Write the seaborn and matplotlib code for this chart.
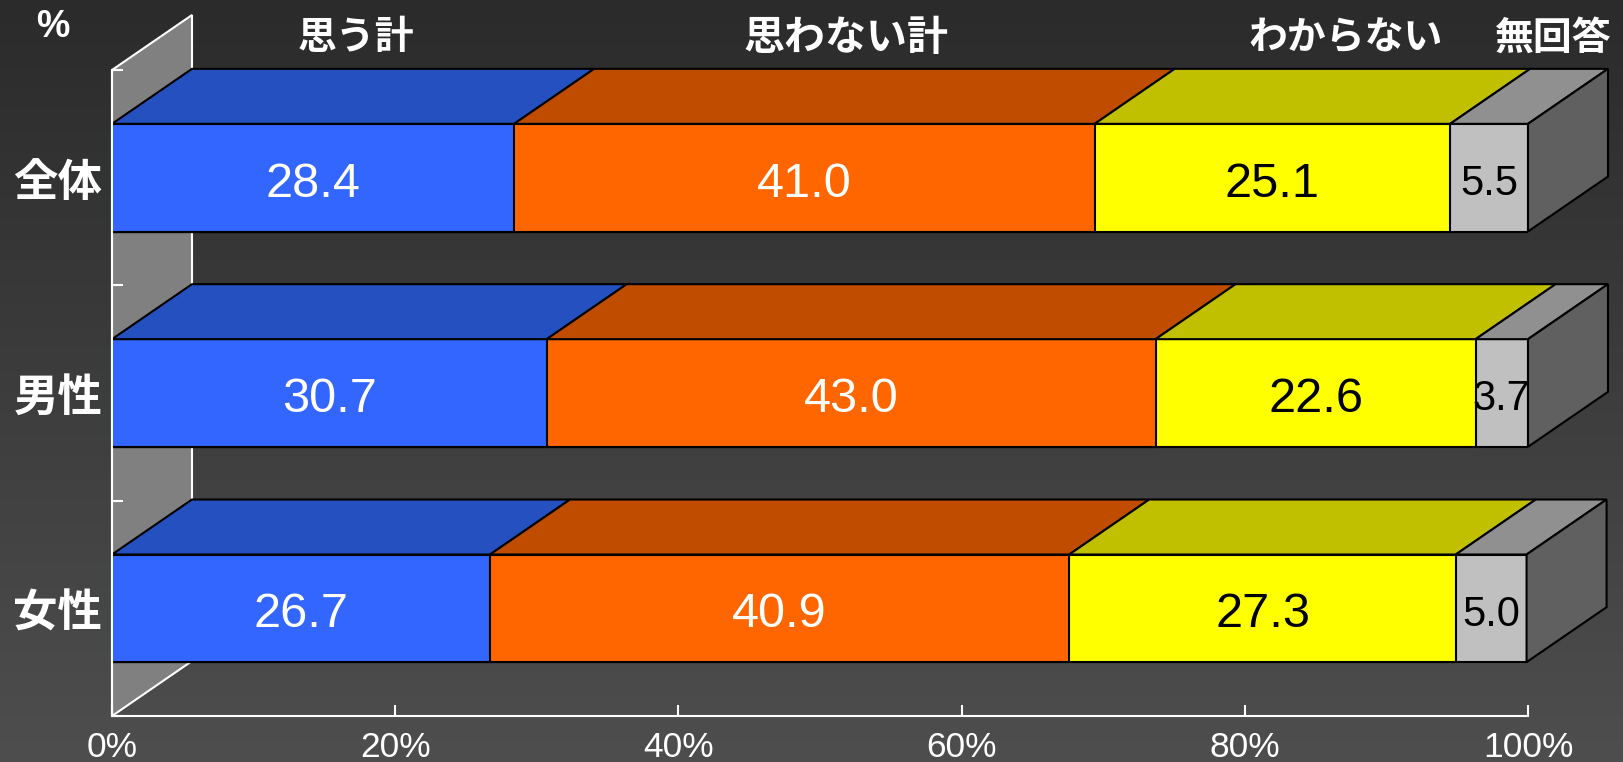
import numpy as np
import pandas as pd
import matplotlib
matplotlib.use("Agg")
import matplotlib.pyplot as plt
from matplotlib.patches import Polygon
from matplotlib.colors import LinearSegmentedColormap
from matplotlib.transforms import blended_transform_factory
import seaborn as sns

# ---- data -------------------------------------------------------------
groups = ["全体", "男性", "女性"]
answers = ["思う計", "思わない計", "わからない", "無回答"]
omou = [28.4, 30.7, 26.7]
omowanai = [41.0, 43.0, 40.9]
wakaranai = [25.1, 22.6, 27.3]
mukaitou = [5.5, 3.7, 5.0]
x_ticks = [0, 20, 40, 60, 80, 100]
x_tick_labels = ["0%", "20%", "40%", "60%", "80%", "100%"]
header_x = [17.2, 51.8, 87.1, 101.8]   # header positions on the % scale

# ---- style ------------------------------------------------------------
front_colors = ["#3366FF", "#FF6600", "#FFFF00", "#C0C0C0"]
top_colors = ["#2550C0", "#C04C00", "#C0C000", "#909090"]
side_color = "#606060"
wall_color = "#808080"
label_colors = ["white", "white", "black", "black"]
label_sizes = [35, 35, 35, 30]
header_sizes = [28, 29.5, 28, 28]
CJK = ["Noto Sans CJK JP", "DejaVu Sans"]
LATIN = ["Liberation Sans", "DejaVu Sans"]

plt.rcParams["font.family"] = CJK

W, H = 1624, 762
fig = plt.figure(figsize=(W / 100, H / 100), dpi=100)

# vertical background gradient
bg = fig.add_axes([0, 0, 1, 1], zorder=-10)
grad = np.linspace(0, 1, 256).reshape(-1, 1)
bg.imshow(grad, aspect="auto",
          cmap=LinearSegmentedColormap.from_list("bg", ["#2b2b2b", "#4e4e4e"]),
          extent=[0, 1, 0, 1], origin="upper")
bg.axis("off")

# front plane of the plot box, in pixels
ax_left, ax_right, ax_top, ax_bottom = 112, 1528, 70, 716
ax = fig.add_axes([ax_left / W, (H - ax_bottom) / H,
                   (ax_right - ax_left) / W, (ax_bottom - ax_top) / H])
ax.set_facecolor("none")

values = np.array([omou, omowanai, wakaranai, mukaitou])
ends = np.cumsum(values, axis=0)
starts = ends - values

df = pd.DataFrame({
    "group": np.tile(groups, len(answers)),
    "answer": np.repeat(answers, len(groups)),
    "value": values.ravel(),
    "start": starts.ravel(),
    "end": ends.ravel(),
})

# stacked front faces: draw cumulative totals from the longest down
for k in reversed(range(len(answers))):
    sub = df[df["answer"] == answers[k]]
    sns.barplot(data=sub, x="end", y="group", order=groups, orient="h",
                color=front_colors[k], saturation=1, width=0.5,
                edgecolor="black", linewidth=1.5, errorbar=None, ax=ax)

ax.set_xlim(0, 100)
ax.set_ylim(len(groups) - 0.5, -0.5)

# depth of the 3D extrusion, converted from pixels to data units
depth_px = (80, 55)
ddx = depth_px[0] / ((ax_right - ax_left) / 100)
ddy = depth_px[1] / ((ax_bottom - ax_top) / len(groups))

# left wall
y_top, y_bot = -0.5, len(groups) - 0.5
ax.add_patch(Polygon([(0, y_top), (ddx, y_top - ddy), (ddx, y_bot - ddy), (0, y_bot)],
                     closed=True, facecolor=wall_color, edgecolor="white",
                     lw=1.5, zorder=0.5, clip_on=False))

half = 0.25
for i, g in enumerate(groups):
    y0 = i - half
    for k in range(len(answers)):
        s, e, v = starts[k, i], ends[k, i], values[k, i]
        ax.add_patch(Polygon([(s, y0), (e, y0), (e + ddx, y0 - ddy), (s + ddx, y0 - ddy)],
                             closed=True, facecolor=top_colors[k], edgecolor="black",
                             lw=1.5, zorder=1, clip_on=False))
        ax.text((s + e) / 2, i + 0.03, f"{v:.1f}", ha="center", va="center",
                fontsize=label_sizes[k], color=label_colors[k], family=LATIN,
                zorder=5)
    end = ends[-1, i]
    ax.add_patch(Polygon([(end, i - half), (end, i + half),
                          (end + ddx, i + half - ddy), (end + ddx, i - half - ddy)],
                         closed=True, facecolor=side_color, edgecolor="black",
                         lw=1.5, zorder=1, clip_on=False))

# headers above the top bar
trans = blended_transform_factory(ax.transData, fig.transFigure)
for k, name in enumerate(answers):
    ax.text(header_x[k], 1 - 38 / H, name, transform=trans, ha="center", va="center",
            fontsize=header_sizes[k], fontweight="bold", color="white", clip_on=False)
fig.text(53 / W, 1 - 27 / H, "%", ha="center", va="center", fontsize=27,
         fontweight="bold", color="white", family=LATIN)

# axes styling
for side in ["top", "right"]:
    ax.spines[side].set_visible(False)
for side in ["left", "bottom"]:
    ax.spines[side].set_color("white")
    ax.spines[side].set_linewidth(1.5)

ax.set_xticks(x_ticks)
ax.set_xticklabels(x_tick_labels, family=LATIN)
ax.tick_params(axis="x", direction="in", length=8, width=1.5, color="white",
               labelcolor="white", labelsize=25.5, pad=11)

ax.set_yticks(range(len(groups)))
ax.set_yticklabels(groups, fontweight="bold", fontsize=32, color="white")
ax.tick_params(axis="y", which="major", length=0, pad=7)
ax.set_yticks(np.arange(len(groups) + 1) - 0.5, minor=True)
ax.tick_params(axis="y", which="minor", direction="in", length=8, width=1.5,
               color="white")
ax.set_xlabel("")
ax.set_ylabel("")

fig.savefig("out.png", dpi=100)
